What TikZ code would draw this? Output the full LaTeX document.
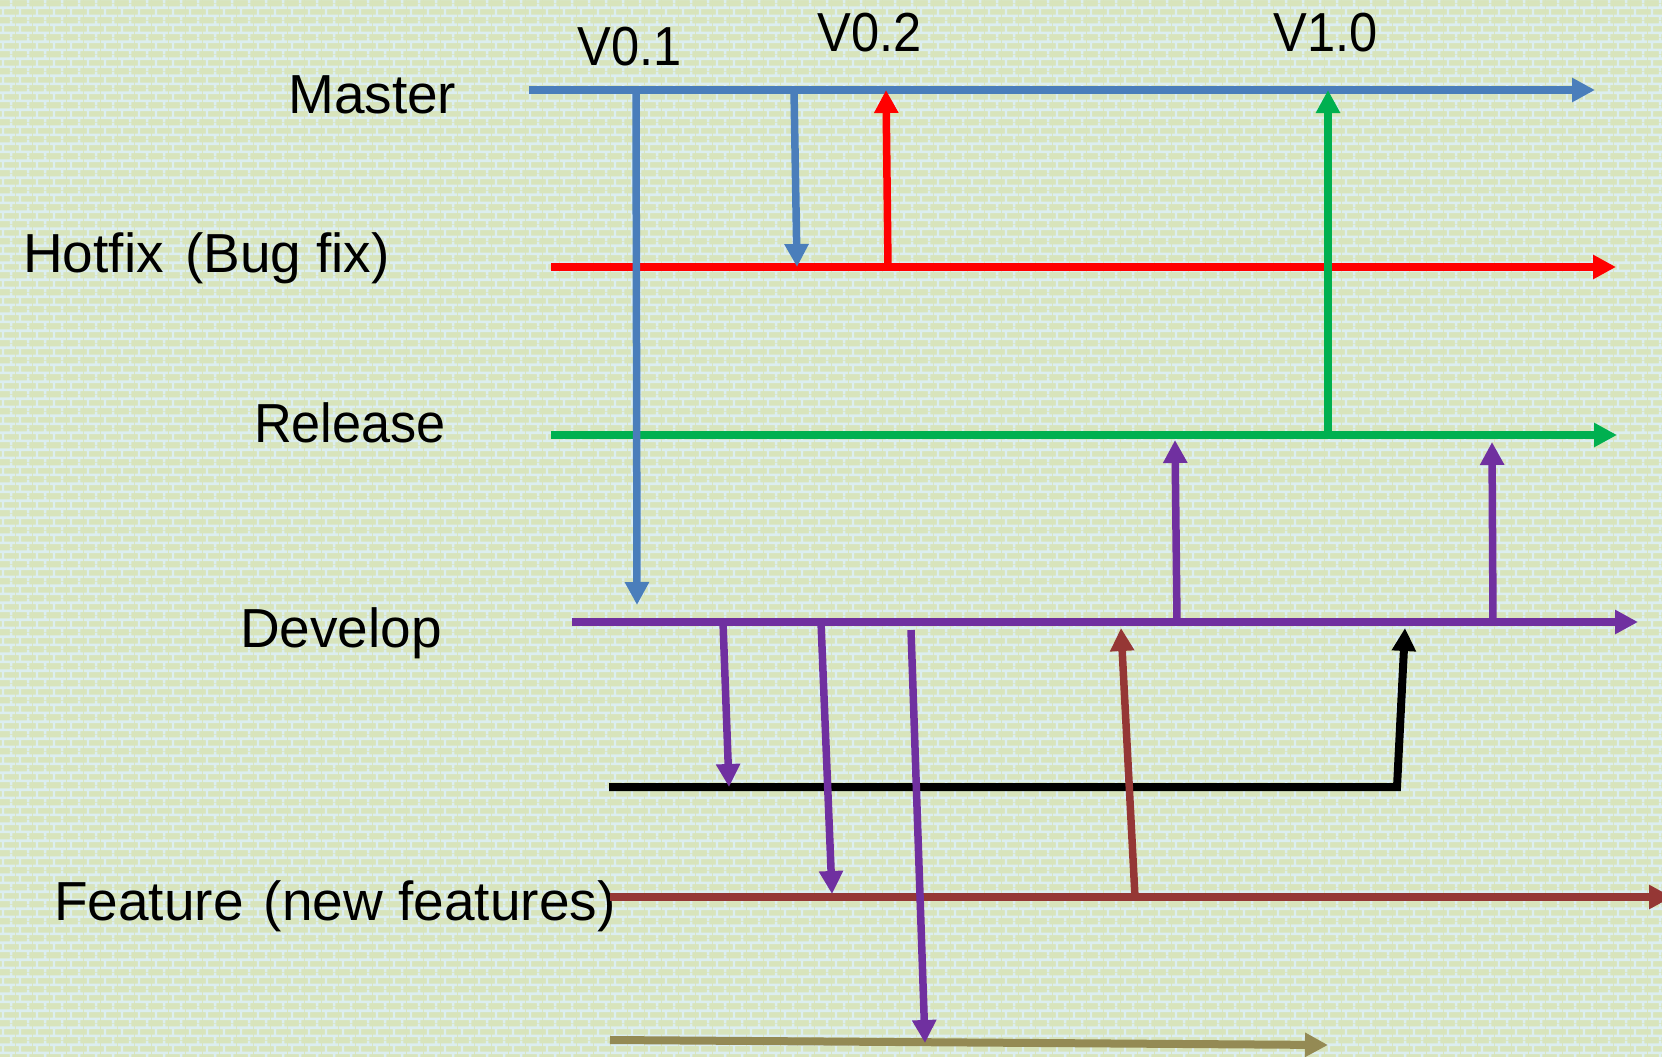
\documentclass[tikz,border=0pt]{standalone}
\usepackage{fontspec}
\setmainfont{Liberation Sans}
\newfontfamily\verfont[FakeStretch=0.92]{Liberation Sans}
\newfontfamily\relfont[FakeStretch=0.95]{Liberation Sans}
\usetikzlibrary{arrows.meta,patterns.meta}

\definecolor{brickfill}{RGB}{216,228,188}
\definecolor{mortar}{RGB}{220,238,240}
\definecolor{masterblue}{RGB}{74,126,187}
\definecolor{hotred}{RGB}{255,0,0}
\definecolor{relgreen}{RGB}{0,176,80}
\definecolor{devpurple}{RGB}{112,48,160}
\definecolor{featbrown}{RGB}{149,55,53}
\definecolor{oliveline}{RGB}{148,138,84}

% brick wall texture: mortar lines over a plain fill
\tikzdeclarepattern{
  name=brickwall,
  type=uncolored,
  bottom left={(0pt,0pt)},
  top right={(17pt,16.667pt)},
  tile size={(17pt,16.667pt)},
  code={
    \draw[line width=2.6pt, line cap=butt]
      (0pt,4.1667pt) -- (17pt,4.1667pt)
      (0pt,12.5pt) -- (17pt,12.5pt)
      (4.25pt,4.1667pt) -- (4.25pt,12.5pt)
      (12.75pt,12.5pt) -- (12.75pt,16.667pt)
      (12.75pt,0pt) -- (12.75pt,4.1667pt);
  }
}

\tikzset{
  lbl/.style={inner sep=0pt, anchor=base west, font=\fontsize{55}{60}\selectfont},
  ver/.style={inner sep=0pt, anchor=base, font=\verfont\fontsize{55}{60}\selectfont},
  branch/.style={line width=8pt},
  merge/.style={line width=7.5pt},
  tip/.style={-{Triangle[length=23pt,width=23pt]}},
}

\begin{document}
\begin{tikzpicture}[x=1pt,y=-1pt]
\useasboundingbox (0,0) rectangle (1662,1057);
\fill[brickfill] (0,0) rectangle (1662,1057);
\fill[pattern=brickwall, pattern color=mortar] (0,0) rectangle (1662,1057);

% branch labels
\node[lbl] (lblMaster)  at (288,113) {Master};
\node[lbl] (lblHotfix)  at (23,272)  {Hotfix\kern6pt{} (Bug fix)};
\node[lbl, font=\relfont\fontsize{55}{60}\selectfont] (lblRelease) at (254,442) {Release};
\node[lbl] (lblDevelop) at (240,647) {Develop};
\node[lbl] (lblFeature) at (54,920)  {Feature\kern5pt{} (new features)};

% version tags
\node[ver] (v01) at (630,66) {V0.1};
\node[ver] (v02) at (870,52) {V0.2};
\node[ver] (v10) at (1326,52) {V1.0};

% branch lines
\coordinate (mS) at (529,90);   \coordinate (mE) at (1595,90);
\coordinate (hS) at (551,267);  \coordinate (hE) at (1616,267);
\coordinate (rS) at (551,435);  \coordinate (rE) at (1617,435);
\coordinate (dS) at (572,622);  \coordinate (dE) at (1638,622);
\coordinate (bS) at (609,787);  \coordinate (bE) at (1397,787);
\coordinate (bT) at (1405,628);
\coordinate (fS) at (610,897);  \coordinate (fE) at (1672,897);
\coordinate (oS) at (610,1040); \coordinate (oE) at (1328,1045);

\draw[branch,tip,masterblue] (mS) -- (mE);
\draw[branch,tip,hotred]     (hS) -- (hE);
\draw[branch,tip,relgreen]   (rS) -- (rE);
\draw[branch,tip,devpurple]  (dS) -- (dE);
\draw[branch,tip,featbrown]  (fS) -- (fE);
\draw[branch,tip,oliveline]  (oS) -- (oE);
\draw[branch,tip,black,line join=miter] (bS) -- (bE) -- (bT);

% merge points
\coordinate (m1) at (636,90);   \coordinate (d1) at (637,605);
\coordinate (m2) at (794,90);   \coordinate (h1) at (797,267);
\coordinate (h2) at (888,267);  \coordinate (m3) at (886,90);
\coordinate (r1) at (1328,435); \coordinate (m4) at (1328,90);
\coordinate (d2) at (1177,622); \coordinate (r2) at (1175,440);
\coordinate (d3) at (1493,622); \coordinate (r3) at (1492,442);
\coordinate (d4) at (723,622);  \coordinate (b1) at (729,787);
\coordinate (d5) at (821,622);  \coordinate (f1) at (832,894);
\coordinate (d6) at (911,630);  \coordinate (o1) at (925,1043);
\coordinate (f2) at (1135,897); \coordinate (d7) at (1121,628);

\draw[merge,tip,masterblue] (m1) -- (d1);
\draw[merge,tip,masterblue] (m2) -- (h1);
\draw[merge,tip,hotred]     (h2) -- (m3);
\draw[merge,tip,relgreen]   (r1) -- (m4);
\draw[merge,tip,devpurple]  (d2) -- (r2);
\draw[merge,tip,devpurple]  (d3) -- (r3);
\draw[merge,tip,devpurple]  (d4) -- (b1);
\draw[merge,tip,devpurple]  (d5) -- (f1);
\draw[merge,tip,devpurple]  (d6) -- (o1);
\draw[merge,tip,featbrown]  (f2) -- (d7);
\end{tikzpicture}
\end{document}
